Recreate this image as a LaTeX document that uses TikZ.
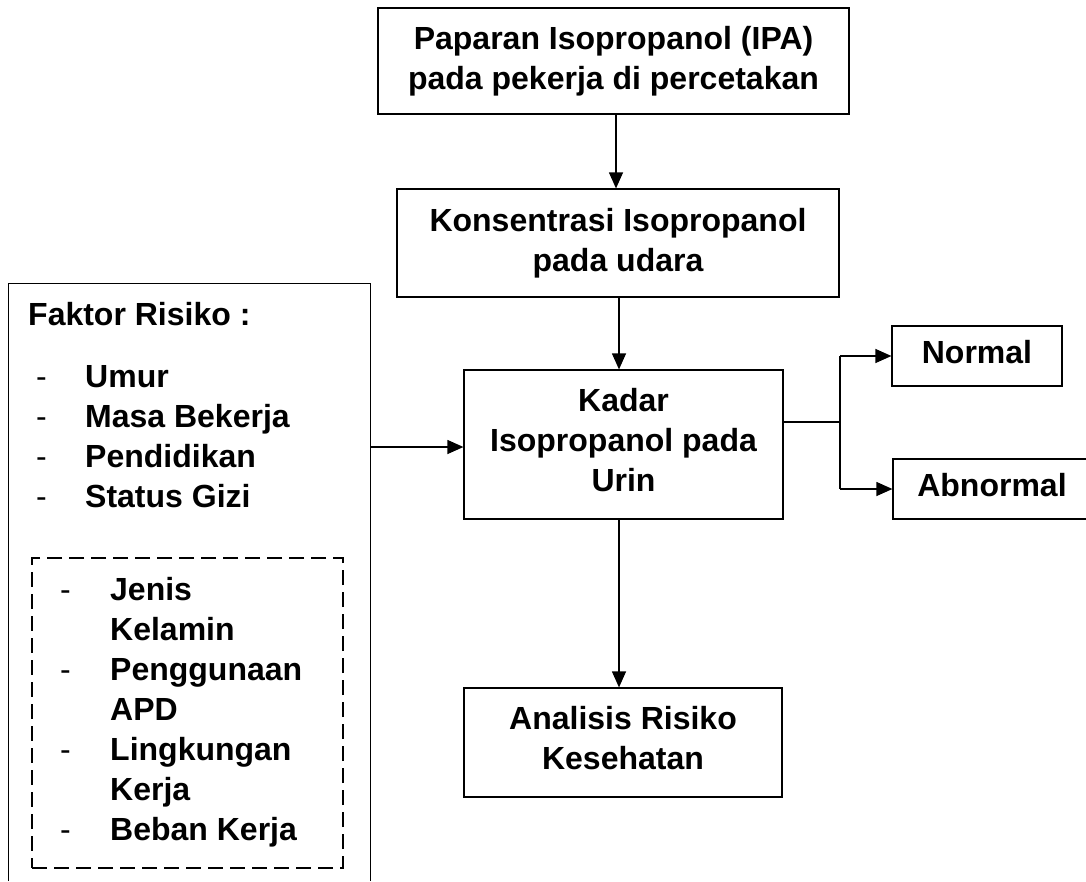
\documentclass[tikz,border=0pt]{standalone}
\usepackage{fontspec}
\setmainfont{Liberation Sans}
\usetikzlibrary{arrows.meta}
\begin{document}
\begin{tikzpicture}[x=1pt,y=-1pt,
 box/.style={draw,line width=1.2pt,align=center,font=\bfseries\fontsize{32}{40}\selectfont,inner sep=0pt},
 conn/.style={line width=1.2pt,-{Triangle[length=16pt,width=14pt]}},
 line/.style={line width=1.2pt},
 txt/.style={anchor=base west,font=\bfseries\fontsize{32}{40}\selectfont,inner sep=0pt},
 dsh/.style={anchor=base west,font=\fontsize{32}{40}\selectfont,inner sep=0pt}]
\useasboundingbox (0,0) rectangle (1086,881);
\clip (0,0) rectangle (1086,881);
% boxes
\node[box,minimum width=471pt,minimum height=106pt] (pap) at (613.5,61) {Paparan Isopropanol (IPA)\\pada pekerja di percetakan};
\node[box,minimum width=442pt,minimum height=108pt] (kon) at (618,243) {Konsentrasi Isopropanol\\pada udara};
\node[box,minimum width=319pt,minimum height=149pt,text depth=10pt] (kad) at (623.5,444.5) {Kadar\\Isopropanol pada\\Urin};
\node[box,minimum width=318pt,minimum height=109pt,text depth=10pt] (ana) at (623,742.5) {Analisis Risiko\\Kesehatan};
\node[box,minimum width=170pt,minimum height=60pt,text depth=9pt] (nor) at (977,356) {Normal};
\node[box,minimum width=198pt,minimum height=60pt,text depth=9pt] (abn) at (992,489) {Abnormal};
% left factor box (open at bottom)
\node[minimum width=361pt,minimum height=597pt,inner sep=0pt] (fak) at (189.5,582.5) {};
\draw[line] (fak.south west) -- (fak.north west) -- (fak.north east) -- (fak.south east);
\node[draw,line width=1.5pt,dash pattern=on 15pt off 7pt,minimum width=311pt,minimum height=310pt,inner sep=0pt] (dbox) at (187.5,713) {};
% texts in factor box
\node[txt] (t0) at (28,325) {Faktor Risiko :};
\node[dsh] (d1) at (36,387) {-};
\node[dsh] (d2) at (36,427) {-};
\node[dsh] (d3) at (36,467) {-};
\node[dsh] (d4) at (36,507) {-};
\node[txt] (t1) at (85,387) {Umur};
\node[txt] (t2) at (85,427) {Masa Bekerja};
\node[txt] (t3) at (85,467) {Pendidikan};
\node[txt] (t4) at (85,507) {Status Gizi};
\node[dsh] (e1) at (60,600) {-};
\node[dsh] (e2) at (60,680) {-};
\node[dsh] (e3) at (60,760) {-};
\node[dsh] (e4) at (60,840) {-};
\node[txt] (u1) at (110,600) {Jenis};
\node[txt] (u2) at (110,640) {Kelamin};
\node[txt] (u3) at (110,680) {Penggunaan};
\node[txt] (u4) at (110,720) {APD};
\node[txt] (u5) at (110,760) {Lingkungan};
\node[txt] (u6) at (110,800) {Kerja};
\node[txt] (u7) at (110,840) {Beban Kerja};
% connectors
\draw[conn] ([xshift=2.5pt]pap.south) -- ([xshift=2.5pt]pap.south |- kon.north);
\draw[conn] ([xshift=1pt]kon.south) -- ([xshift=1pt]kon.south |- kad.north);
\draw[conn] ([xshift=-4.5pt]kad.south) -- ([xshift=-4.5pt]kad.south |- ana.north);
\draw[conn] (fak.east |- 0,447) -- (kad.west |- 0,447);
\coordinate (br) at (840,422);
\draw[line] (kad.east |- br) -- (br);
\draw[line] (br |- nor.west) -- (br |- abn.west);
\draw[conn] (br |- nor.west) -- (nor.west);
\draw[conn] (br |- abn.west) -- (abn.west);
\end{tikzpicture}
\end{document}
